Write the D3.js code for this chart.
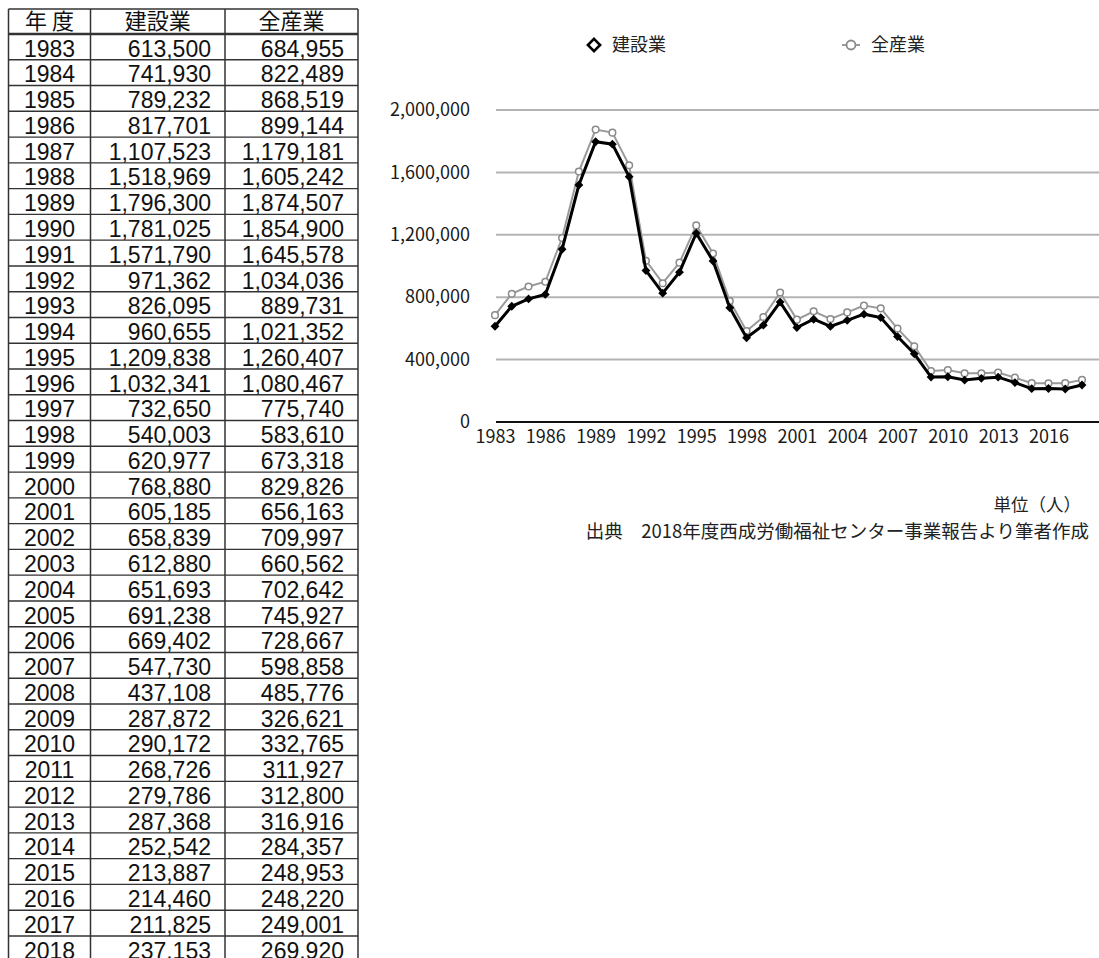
<!DOCTYPE html>
<html lang="ja">
<head>
<meta charset="utf-8">
<script src="https://cdn.jsdelivr.net/npm/d3@7"></script>
<style>
  html, body { margin: 0; padding: 0; background: #fff; }
  svg { display: block; font-family: "Noto Sans CJK JP", "Noto Sans", sans-serif; }
</style>
</head>
<body>
<svg id="chart" width="1099" height="958"></svg>
<script>
// 年度別 求人数（建設業・全産業）
const years = [1983,1984,1985,1986,1987,1988,1989,1990,1991,1992,1993,1994,1995,1996,1997,1998,1999,2000,
  2001,2002,2003,2004,2005,2006,2007,2008,2009,2010,2011,2012,2013,2014,2015,2016,2017,2018];
const construction = [613500,741930,789232,817701,1107523,1518969,1796300,1781025,1571790,971362,826095,960655,
  1209838,1032341,732650,540003,620977,768880,605185,658839,612880,651693,691238,669402,547730,437108,287872,
  290172,268726,279786,287368,252542,213887,214460,211825,237153];
const allIndustries = [684955,822489,868519,899144,1179181,1605242,1874507,1854900,1645578,1034036,889731,1021352,
  1260407,1080467,775740,583610,673318,829826,656163,709997,660562,702642,745927,728667,598858,485776,326621,
  332765,311927,312800,316916,284357,248953,248220,249001,269920];
const headers = ["年 度", "建設業", "全産業"];
const seriesNames = ["建設業", "全産業"];
const yTicks = [0, 400000, 800000, 1200000, 1600000, 2000000];
const xTicks = [1983,1986,1989,1992,1995,1998,2001,2004,2007,2010,2013,2016];
const unitNote = "単位（人）";
const sourceNote = "出典　2018年度西成労働福祉センター事業報告より筆者作成";

const svg = d3.select("#chart");
const fmt = d3.format(",");

// ---------- table ----------
const colEdges = [8.5, 90.5, 225, 358];
const tableTop = 9, headerH = 25, rowH = 25.77;
const rows = years.map((y, i) => [String(y), fmt(construction[i]), fmt(allIndustries[i])]);
const tableBottom = tableTop + headerH + rows.length * rowH;
const tbl = svg.append("g").attr("class", "table");

// header texts
tbl.selectAll("text.hdr").data(headers).join("text")
  .attr("class", "hdr")
  .attr("x", (d, i) => (colEdges[i] + colEdges[i + 1]) / 2)
  .attr("y", tableTop + 20)
  .attr("text-anchor", "middle")
  .attr("font-size", 22)
  .attr("fill", "#111")
  .text(d => d);

// body texts (numbers)
const rowG = tbl.selectAll("g.row").data(rows).join("g")
  .attr("class", "row")
  .attr("transform", (d, i) => `translate(0,${tableTop + headerH + i * rowH})`);
rowG.selectAll("text").data(d => d).join("text")
  .attr("x", (d, i) => i === 0 ? (colEdges[0] + colEdges[1]) / 2 : colEdges[i + 1] - 14)
  .attr("y", 22.6)
  .attr("text-anchor", (d, i) => i === 0 ? "middle" : "end")
  .attr("font-family", "'Liberation Sans', Arial, sans-serif")
  .attr("font-size", 23)
  .attr("fill", "#111")
  .text(d => d);

// grid lines of the table
const hLines = d3.range(rows.length + 2).map(k => k === 0 ? tableTop : tableTop + headerH + (k - 1) * rowH);
tbl.selectAll("line.h").data(hLines).join("line")
  .attr("class", "h")
  .attr("x1", colEdges[0]).attr("x2", colEdges[3])
  .attr("y1", d => d).attr("y2", d => d)
  .attr("stroke", "#333")
  .attr("stroke-width", (d, i) => i === 1 ? 2.6 : 1.4);
tbl.selectAll("line.v").data(colEdges).join("line")
  .attr("class", "v")
  .attr("x1", d => d).attr("x2", d => d)
  .attr("y1", tableTop).attr("y2", tableBottom)
  .attr("stroke", "#333")
  .attr("stroke-width", 1.5);

// ---------- line chart ----------
const x = d3.scaleLinear().domain([1983, 2018]).range([495, 1082]);
const y = d3.scaleLinear().domain([0, 2000000]).range([422, 110]);
const plotLeft = 496, plotRight = 1099;

const chart = svg.append("g").attr("class", "chart");

// horizontal gridlines
chart.selectAll("line.grid").data(yTicks.filter(t => t > 0)).join("line")
  .attr("class", "grid")
  .attr("x1", plotLeft).attr("x2", plotRight)
  .attr("y1", d => y(d)).attr("y2", d => y(d))
  .attr("stroke", "#b4b4b4").attr("stroke-width", 2);

// y axis labels
const yAxis = chart.append("g")
  .attr("transform", `translate(${plotLeft},0)`)
  .call(d3.axisLeft(y).tickValues(yTicks).tickSize(0).tickPadding(26).tickFormat(fmt));
yAxis.select(".domain").remove();
yAxis.selectAll("text").attr("font-size", 18).attr("fill", "#1a1a1a")
  .attr("font-family", "'Noto Sans CJK JP', sans-serif");

// x axis
const xAxis = chart.append("g")
  .attr("transform", `translate(0,${y(0)})`)
  .call(d3.axisBottom(x).tickValues(xTicks).tickSize(0).tickPadding(8).tickFormat(d3.format("d")));
xAxis.select(".domain").remove();
xAxis.selectAll("text").attr("font-size", 18).attr("fill", "#1a1a1a")
  .attr("font-family", "'Noto Sans CJK JP', sans-serif");
chart.append("line")
  .attr("x1", plotLeft).attr("x2", plotRight)
  .attr("y1", y(0)).attr("y2", y(0))
  .attr("stroke", "#111").attr("stroke-width", 2.2);

const line = d3.line().x(d => x(d[0])).y(d => y(d[1]));
const allPts = years.map((yr, i) => [yr, allIndustries[i]]);
const conPts = years.map((yr, i) => [yr, construction[i]]);

// 全産業 (gray, open circles)
chart.append("path").datum(allPts)
  .attr("d", line).attr("fill", "none")
  .attr("stroke", "#9a9a9a").attr("stroke-width", 2);
chart.selectAll("circle.all").data(allPts).join("circle")
  .attr("class", "all")
  .attr("cx", d => x(d[0])).attr("cy", d => y(d[1]))
  .attr("r", 3.3)
  .attr("fill", "#fff").attr("stroke", "#8a8a8a").attr("stroke-width", 1.5);

// 建設業 (black, filled diamonds)
const diamond = d3.symbol().type(d3.symbolDiamond2).size(50);
chart.append("path").datum(conPts)
  .attr("d", line).attr("fill", "none")
  .attr("stroke", "#000").attr("stroke-width", 3);
chart.selectAll("path.con").data(conPts).join("path")
  .attr("class", "con")
  .attr("d", diamond)
  .attr("transform", d => `translate(${x(d[0])},${y(d[1])})`)
  .attr("fill", "#000");

// legend
const legend = svg.append("g").attr("class", "legend");
legend.append("path")
  .attr("d", d3.symbol().type(d3.symbolDiamond2).size(95)())
  .attr("transform", "translate(594,45)")
  .attr("fill", "#fff").attr("stroke", "#000").attr("stroke-width", 2.6);
legend.append("text").attr("x", 612).attr("y", 51)
  .attr("font-size", 18).attr("fill", "#222").text(seriesNames[0]);
legend.append("line").attr("x1", 842).attr("x2", 860).attr("y1", 45).attr("y2", 45)
  .attr("stroke", "#9a9a9a").attr("stroke-width", 2);
legend.append("circle").attr("cx", 851).attr("cy", 45).attr("r", 4.5)
  .attr("fill", "#fff").attr("stroke", "#8a8a8a").attr("stroke-width", 1.8);
legend.append("text").attr("x", 871).attr("y", 51)
  .attr("font-size", 18).attr("fill", "#222").text(seriesNames[1]);

// notes
svg.append("text").attr("x", 1081).attr("y", 511).attr("text-anchor", "end")
  .attr("font-size", 17.5).attr("fill", "#222").text(unitNote);
svg.append("text").attr("x", 1089).attr("y", 538).attr("text-anchor", "end")
  .attr("font-size", 18.5).attr("fill", "#222").text(sourceNote);
</script>
</body>
</html>
